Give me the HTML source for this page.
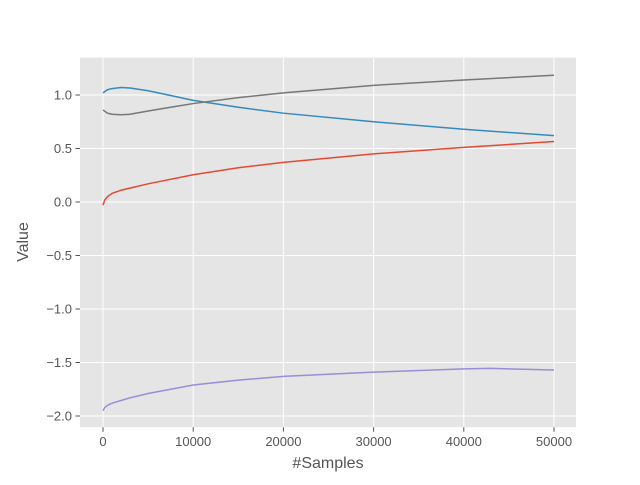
<!DOCTYPE html>
<html><head><meta charset="utf-8"><style>
body{margin:0;background:#fff;}
svg{font-family:"Liberation Sans","DejaVu Sans",sans-serif;}
</style></head><body>
<svg id="chart" width="640" height="480">
<rect x="80" y="57.6" width="496" height="369.6" fill="#E5E5E5"/>
<g id="grid"></g><g id="series"></g><g id="ticks"></g>
<text x="328" y="468" text-anchor="middle" font-size="16" fill="#555">#Samples</text>
<text x="28" y="242" text-anchor="middle" font-size="16" fill="#555" transform="rotate(-90 28 242)">Value</text>
</svg>
<script>
const xTicks=[0,10000,20000,30000,40000,50000];
const yTicks=[1.0,0.5,0.0,-0.5,-1.0,-1.5,-2.0];
const yTickLabels=["1.0","0.5","0.0","\u22120.5","\u22121.0","\u22121.5","\u22122.0"];
const redX=[0,200,500,1000,2000,5000,10000,15000,20000,30000,40000,50000];
const redY=[-0.03,0.02,0.05,0.08,0.11,0.17,0.255,0.32,0.37,0.45,0.51,0.565];
const blueX=[0,500,1000,2000,3000,5000,7500,10000,15000,20000,30000,40000,50000];
const blueY=[1.02,1.05,1.06,1.07,1.065,1.04,0.995,0.95,0.885,0.83,0.75,0.68,0.62];
const grayX=[0,500,1000,2000,3000,5000,7500,10000,15000,20000,30000,40000,50000];
const grayY=[0.86,0.83,0.82,0.815,0.82,0.85,0.885,0.92,0.975,1.02,1.09,1.14,1.185];
const purpleX=[0,200,500,1000,3000,5000,10000,15000,20000,30000,40000,43000,50000];
const purpleY=[-1.95,-1.92,-1.9,-1.88,-1.83,-1.79,-1.71,-1.665,-1.63,-1.59,-1.56,-1.555,-1.57];
const sx=v=>103+v*(451/50000);
const sy=v=>202-v*107;
const NS="http://www.w3.org/2000/svg";
const grid=document.getElementById('grid'),ticks=document.getElementById('ticks'),series=document.getElementById('series');
function mk(tag,attrs,parent){const e=document.createElementNS(NS,tag);for(const k in attrs)e.setAttribute(k,attrs[k]);parent.appendChild(e);return e;}
xTicks.forEach(t=>{
 const l=mk('line',{x1:sx(t),x2:sx(t),y1:57.6,y2:427.2,stroke:'#fff','stroke-width':1},grid);
 
 
 mk('line',{x1:sx(t),x2:sx(t),y1:427.2,y2:431.7,stroke:'#555'},ticks);
 const tx=mk('text',{x:sx(t),y:446,'text-anchor':'middle','font-size':13,fill:'#555'},ticks);
 tx.textContent=String(t);
 
 
});
yTicks.forEach((t,i)=>{
 const l=mk('line',{x1:80,x2:576,y1:sy(t),y2:sy(t),stroke:'#fff','stroke-width':1},grid);
 
 
 mk('line',{x1:75.5,x2:80,y1:sy(t),y2:sy(t),stroke:'#555'},ticks);
 const tx=mk('text',{x:72,y:sy(t)+4.5,'text-anchor':'end','font-size':13,fill:'#555'},ticks);
 tx.textContent=yTickLabels[i];
 
 
});
function line(xs,ys,color,name){
 const d=xs.map((x,i)=>(i?'L':'M')+sx(x).toFixed(2)+','+sy(ys[i]).toFixed(2)).join('');
 const p=mk('path',{d:d,fill:'none',stroke:color,'stroke-width':1.5},series);
 
 
}
line(redX,redY,'#E24A33','red-series-line');
line(blueX,blueY,'#348ABD','blue-series-line');
line(purpleX,purpleY,'#988ED5','purple-series-line');
line(grayX,grayY,'#777777','gray-series-line');
</script>
</body></html>
